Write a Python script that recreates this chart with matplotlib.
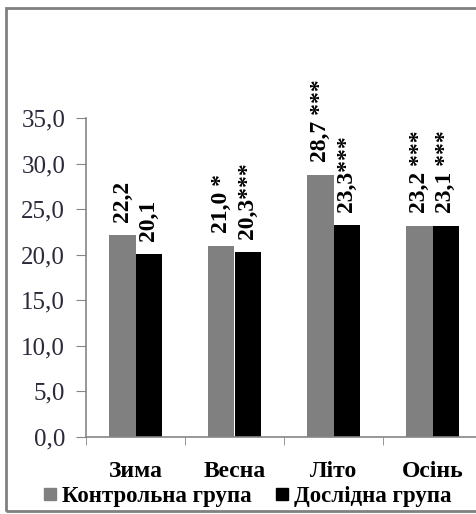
import numpy as np
import matplotlib.pyplot as plt
from matplotlib.patches import Rectangle

# data
seasons = ['Зима', 'Весна', 'Літо', 'Осінь']
control = [22.2, 21.0, 28.7, 23.2]
experimental = [20.1, 20.3, 23.3, 23.1]
control_marks = ['22,2', '21,0 *', '28,7 ***', '23,2 ***']
experimental_marks = ['20,1', '20,3***', '23,3***', '23,1 ***']
series_names = ['Контрольна група', 'Дослідна група']
yticks = [0, 5, 10, 15, 20, 25, 30, 35]

plt.rcParams['font.family'] = ['Liberation Serif', 'DejaVu Serif']

fig = plt.figure(figsize=(4.76, 5.14), dpi=100)
ax = fig.add_axes([86/476, 77/514, 396/476, 319/514])

x = np.arange(len(seasons))
w = 0.27
b1 = ax.bar(x - w/2, control, w, color='#808080', label=series_names[0])
b2 = ax.bar(x + w/2, experimental, w, color='#000000', label=series_names[1])

for bars, marks in [(b1, control_marks), (b2, experimental_marks)]:
    for bar, txt in zip(bars, marks):
        ax.annotate(txt, (bar.get_x() + bar.get_width()/2, bar.get_height()),
                    xytext=(0, 13), textcoords='offset pixels',
                    rotation=90, ha='center', va='bottom',
                    fontsize=17, fontweight='bold', color='black')

ax.set_ylim(0, 35)
ax.set_xlim(-0.5, len(seasons) - 0.5)
ax.set_yticks(yticks)
ax.set_yticklabels([f'{v:.1f}'.replace('.', ',') for v in yticks],
                   fontsize=18, color='#2a2a3a')
ax.set_xticks(x)
ax.set_xticklabels(seasons, fontsize=17, fontweight='bold')
ax.set_xticks(np.arange(-0.5, len(seasons)), minor=True)
ax.tick_params(axis='x', which='major', length=0, pad=17)
ax.tick_params(axis='x', which='minor', length=6, color='#868686', direction='out')
ax.tick_params(axis='y', length=7, color='#868686', pad=8)

for s in ['top', 'right']:
    ax.spines[s].set_visible(False)
for s in ['left', 'bottom']:
    ax.spines[s].set_color('#868686')
    ax.spines[s].set_linewidth(1.2)

handles = [plt.Line2D([], [], marker='s', linestyle='', color='#808080', markersize=8),
           plt.Line2D([], [], marker='s', linestyle='', color='#000000', markersize=8)]
leg = fig.legend(handles, series_names, loc='center left', bbox_to_anchor=(32/476, 1 - 496/514),
                 ncol=2, frameon=False, handlelength=0.6, handletextpad=0.2,
                 columnspacing=1.05, borderpad=0, prop={'size': 16.5, 'weight': 'bold'})

# outer chart border (cut off on the right side)
fig.patches.append(Rectangle((6/476, 3/514), 480/476, 503/514, transform=fig.transFigure,
                             fill=False, edgecolor='#808080', linewidth=2))

fig.savefig('out.png', dpi=100)
